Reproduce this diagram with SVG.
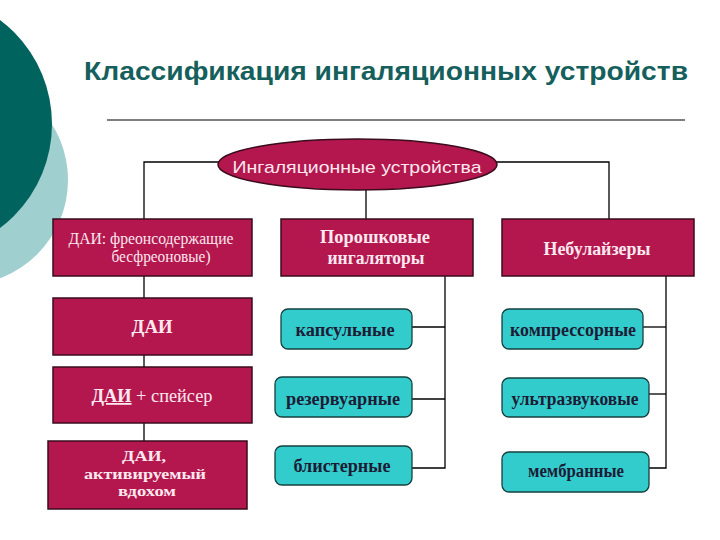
<svg xmlns="http://www.w3.org/2000/svg" width="720" height="540" viewBox="0 0 720 540">
<style>
.crim{fill:#b3174d;stroke:#3a0c1c;stroke-width:1.5}
.cyan{fill:#33cccc;stroke:#16403f;stroke-width:1.3}
.wt{font-family:"Liberation Serif","DejaVu Serif","Times New Roman",serif;fill:#fde8f0;text-anchor:middle}
.ct{font-family:"Liberation Serif","DejaVu Serif","Times New Roman",serif;font-weight:bold;font-size:18px;fill:#1c1c36;text-anchor:middle}
.b{font-weight:bold;font-size:18px}
.s{font-weight:bold;font-size:15.5px}
.conn{fill:none;stroke:#000;stroke-width:1.3}
</style>
<rect width="720" height="540" fill="#ffffff"/>
<g id="decor">
<circle cx="-37" cy="180" r="105" fill="#9fcfcf"/>
<circle cx="-78" cy="124" r="130" fill="#00635e"/>
</g>
<g id="title">
<text x="84" y="80" font-family="Liberation Sans,Arial,sans-serif" font-weight="bold" font-size="26" fill="#155f5c" textLength="604" lengthAdjust="spacingAndGlyphs">Классификация ингаляционных устройств</text>
<line x1="107" y1="120" x2="685" y2="120" stroke="#000" stroke-width="1.2"/>
</g>
<g id="connectors">
<polyline class="conn" points="219,162 144,162 144,219"/>
<polyline class="conn" points="496,162 609,162 609,219"/>
<line class="conn" x1="366" y1="189" x2="366" y2="219"/>
<line class="conn" x1="144" y1="276" x2="144" y2="298"/>
<line class="conn" x1="144" y1="355" x2="144" y2="367"/>
<line class="conn" x1="144" y1="423" x2="144" y2="441"/>
<polyline class="conn" points="445,276 445,468 412,468"/>
<line class="conn" x1="412" y1="327" x2="445" y2="327"/>
<line class="conn" x1="412" y1="399" x2="445" y2="399"/>
<polyline class="conn" points="666,276 666,468 649,468"/>
<line class="conn" x1="643" y1="327" x2="666" y2="327"/>
<line class="conn" x1="649" y1="394" x2="666" y2="394"/>
</g>
<g id="root">
<ellipse class="crim" cx="357.5" cy="164.5" rx="139.5" ry="25.5"/>
<text x="357" y="173" font-family="Liberation Sans,Arial,sans-serif" font-size="17" fill="#fde8f0" text-anchor="middle" textLength="249" lengthAdjust="spacingAndGlyphs">Ингаляционные устройства</text>
</g>
<g id="dai-main">
<rect class="crim" x="53" y="219" width="199" height="57"/>
<text class="wt" font-size="16" x="151" y="244" textLength="165" lengthAdjust="spacingAndGlyphs">ДАИ: фреонсодержащие</text>
<text class="wt" font-size="16" x="161" y="262" textLength="99" lengthAdjust="spacingAndGlyphs">бесфреоновые)</text>
</g>
<g id="powder">
<rect class="crim" x="281" y="219" width="192" height="57"/>
<text class="wt b" x="375" y="243" textLength="110" lengthAdjust="spacingAndGlyphs">Порошковые</text>
<text class="wt b" x="376" y="264" textLength="97" lengthAdjust="spacingAndGlyphs">ингаляторы</text>
</g>
<g id="nebul">
<rect class="crim" x="502" y="219" width="192" height="57"/>
<text class="wt b" x="597" y="255" textLength="107" lengthAdjust="spacingAndGlyphs">Небулайзеры</text>
</g>
<g id="dai">
<rect class="crim" x="53" y="298" width="199" height="57"/>
<text class="wt b" x="152" y="333" textLength="41" lengthAdjust="spacingAndGlyphs">ДАИ</text>
</g>
<g id="dai-spacer">
<rect class="crim" x="53" y="367" width="199" height="56"/>
<text class="wt" font-size="18" x="152" y="402" textLength="121" lengthAdjust="spacingAndGlyphs"><tspan font-weight="bold" text-decoration="underline">ДАИ</tspan> + спейсер</text>
</g>
<g id="dai-breath">
<rect class="crim" x="48" y="441" width="199" height="68"/>
<text class="wt s" x="144" y="461" textLength="44" lengthAdjust="spacingAndGlyphs">ДАИ,</text>
<text class="wt s" x="145" y="478.5" textLength="122" lengthAdjust="spacingAndGlyphs">активируемый</text>
<text class="wt s" x="147" y="496" textLength="58" lengthAdjust="spacingAndGlyphs">вдохом</text>
</g>
<g id="capsule">
<rect class="cyan" x="281" y="309" width="131" height="40" rx="7"/>
<text class="ct" x="345" y="336" textLength="99" lengthAdjust="spacingAndGlyphs">капсульные</text>
</g>
<g id="reservoir">
<rect class="cyan" x="275" y="377" width="137" height="40" rx="7"/>
<text class="ct" x="343" y="405" textLength="114" lengthAdjust="spacingAndGlyphs">резервуарные</text>
</g>
<g id="blister">
<rect class="cyan" x="275" y="446" width="137" height="39" rx="7"/>
<text class="ct" x="342" y="472" textLength="97" lengthAdjust="spacingAndGlyphs">блистерные</text>
</g>
<g id="compressor">
<rect class="cyan" x="502" y="309" width="141" height="40" rx="7"/>
<text class="ct" x="573" y="336" textLength="126" lengthAdjust="spacingAndGlyphs">компрессорные</text>
</g>
<g id="ultrasonic">
<rect class="cyan" x="502" y="378" width="147" height="39" rx="7"/>
<text class="ct" x="575" y="405" textLength="127" lengthAdjust="spacingAndGlyphs">ультразвуковые</text>
</g>
<g id="membrane">
<rect class="cyan" x="502" y="452" width="147" height="40" rx="7"/>
<text class="ct" x="576" y="477" textLength="96" lengthAdjust="spacingAndGlyphs">мембранные</text>
</g>
</svg>
